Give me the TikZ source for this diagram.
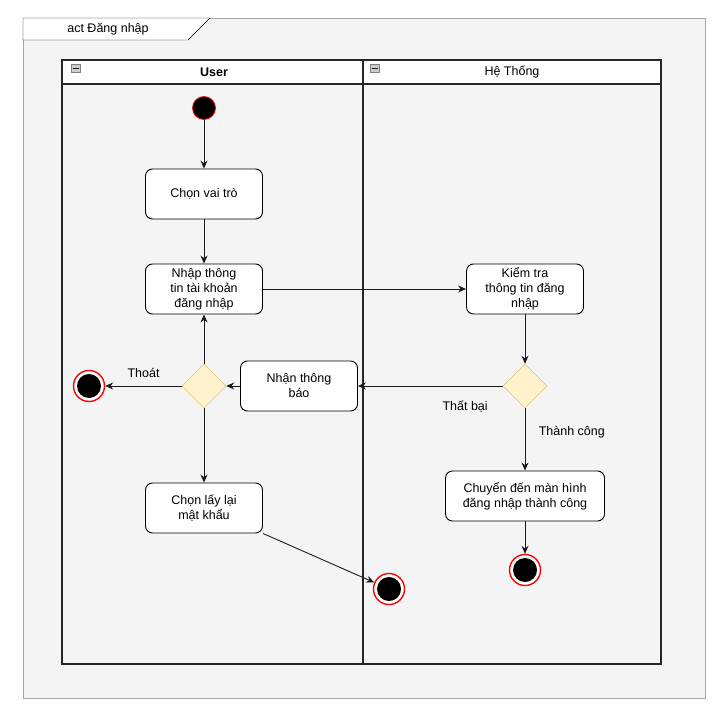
\documentclass[tikz,border=0pt]{standalone}
\usepackage{fontspec}
\setmainfont{Liberation Sans}
\usepackage{tikz}
\usetikzlibrary{shapes.geometric}
\usetikzlibrary{arrows.meta}
\definecolor{framebg}{HTML}{F4F4F4}
\definecolor{decfill}{HTML}{FFF2CC}
\definecolor{decline}{HTML}{D6B656}
\definecolor{ringred}{HTML}{FF0000}
\definecolor{wire}{HTML}{1A1A1A}

\begin{document}
\begin{tikzpicture}[x=1pt, y=-1pt,
      font=\fontsize{12.5}{15}\selectfont,
      action/.style={draw, line width=0.9pt, rectangle, rounded corners=7pt, fill=white, align=center, minimum width=117pt, minimum height=50pt, inner sep=2pt},
      decision/.style={draw=decline, diamond, fill=decfill, minimum width=44pt, minimum height=44pt, inner sep=0pt},
      startnode/.style={draw=ringred, line width=0.8pt, circle, fill=black, minimum size=23pt, inner sep=0pt},
      endnode/.style={draw=ringred, line width=1.4pt, circle, fill=white, minimum size=31pt, inner sep=0pt, path picture={\fill[black] (path picture bounding box.center) circle (12pt);}},
      flow/.style={draw=wire, line width=0.9pt, -{Stealth[length=8pt,width=7pt]}}
    ]
    \useasboundingbox (0,0) rectangle (718,719);

    % frame
    \draw[gray!70, fill=framebg] (23,18) rectangle (705,698);
    \draw[black, fill=white] (23,18) -- (210,18) -- (188,40) -- (23,40) -- cycle;
    \node (title) at (108,29) {act Đăng nhập};

    % lanes
    \draw[line width=1.1pt, draw=black!85, fill=white] (62,60) rectangle (661,84);
    \draw[line width=1.1pt, draw=black!85] (62,84) rectangle (363,664);
    \draw[line width=1.1pt, draw=black!85] (363,84) rectangle (661,664);
    \draw[line width=1.1pt, draw=black!85] (363,60) -- (363,84);
    \draw[gray, fill=gray!40] (71,64) rectangle (80,72);
    \draw[gray!20!black] (72.5,68) -- (78.5,68);
    \draw[gray, fill=gray!40] (370,64) rectangle (379,72);
    \draw[gray!20!black] (371.5,68) -- (377.5,68);
    \node (userlane) at (214,72) {\bfseries User};
    \node (syslane) at (512,72) {Hệ Thống};

    % user lane
    \node[startnode] (start) at (204,108) {};
    \node[action] (role) at (204,194) {Chọn vai trò};
    \node[action] (input) at (204,289) {Nhập thông\\tin tài khoản\\đăng nhập};
    \node[action] (notify) at (299,386) {Nhận thông\\báo};
    \node[decision] (dec1) at (204,386) {};
    \node[endnode] (end1) at (89,386) {};
    \node[action] (reset) at (204,508) {Chọn lấy lại\\mật khẩu};
    \node[endnode] (end2) at (389,589) {};

    % system lane
    \node[action] (check) at (525,289) {Kiểm tra\\thông tin đăng\\nhập};
    \node[decision] (dec2) at (525,386) {};
    \node[action, minimum width=159pt] (done) at (525,496) {Chuyển đến màn hình\\đăng nhập thành công};
    \node[endnode] (end3) at (525,570) {};

    \path[flow] (start) -- (role);
    \path[flow] (role) -- (input);
    \path[flow] (input) -- (check);
    \path[flow] (check) -- (dec2);
    \path[flow] (dec2) -- node[pos=0.26, below=11pt] {Thất bại} (notify);
    \path[flow] (dec2) -- node[pos=0.38, right=10pt] {Thành công} (done);
    \path[flow] (done) -- (end3);
    \path[flow] (notify) -- (dec1);
    \path[flow] (dec1) -- node[pos=0.5, above=5pt] {Thoát} (end1);
    \path[flow] (dec1) -- (input);
    \path[flow] (dec1) -- (reset);
    \path[flow] (reset.south east) -- (end2);
  \end{tikzpicture}
\end{document}
